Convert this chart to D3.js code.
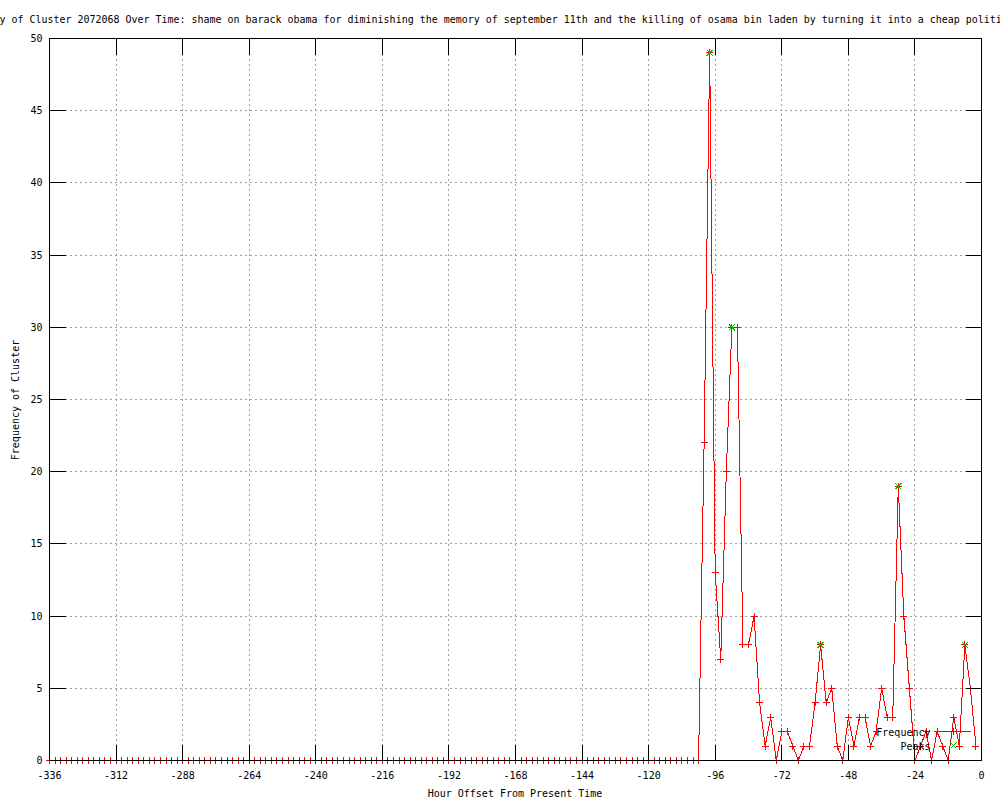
<!DOCTYPE html>
<html>
<head>
<meta charset="utf-8">
<script src="https://cdn.jsdelivr.net/npm/d3@7"></script>
<style>
body{margin:0;background:#fff}
svg text{font-family:"DejaVu Sans Mono",monospace;font-size:10px;fill:#000}
</style>
</head>
<body>
<svg id="chart" width="1000" height="800"></svg>
<script>
var titleText = "Frequency of Cluster 2072068 Over Time: shame on barack obama for diminishing the memory of september 11th and the killing of osama bin laden by turning it into a cheap political stunt"
var xLabel = "Hour Offset From Present Time"
var yLabel = "Frequency of Cluster"

// one bucket every 2 hours, -336 .. -2
var hours = d3.range(-336, 0, 2)
var freq = [
    0,0,0,0,0,0,0,0,0,0,0,0,0,0,0,0,0,0,0,0,
    0,0,0,0,0,0,0,0,0,0,0,0,0,0,0,0,0,0,0,0,
    0,0,0,0,0,0,0,0,0,0,0,0,0,0,0,0,0,0,0,0,
    0,0,0,0,0,0,0,0,0,0,0,0,0,0,0,0,0,0,0,0,
    0,0,0,0,0,0,0,0,0,0,0,0,0,0,0,0,0,0,0,0,
    0,0,0,0,0,0,0,0,0,0,0,0,0,0,0,0,0,0,
    22,49,13,7,20,30,30,8,8,10,
    4,1,3,0,2,2,1,0,1,1,
    4,8,4,5,1,0,3,1,3,3,
    1,2,5,3,3,19,10,5,0,1,
    2,0,2,1,0,3,1,8,5,1
]
var peakHours = [-98,-90,-58,-30,-6]
var peakValues = [49,30,8,19,8]

var xTicks = [-336,-312,-288,-264,-240,-216,-192,-168,-144,-120,-96,-72,-48,-24,0]
var yTicks = [0,5,10,15,20,25,30,35,40,45,50]
var legendNames = ["Frequency","Peaks"]

var plotLeft = 49, plotRight = 981, plotTop = 38, plotBottom = 760
var svg = d3.select("#chart")

var x = d3.scaleLinear().domain([-336,0]).range([plotLeft,plotRight])
var y = d3.scaleLinear().domain([0,50]).range([plotBottom,plotTop])

var plot = svg.append("g").attr("transform","translate(0.5,0.5)")

//grid
plot.append("g").selectAll("line")
    .data(xTicks).enter().append("line")
    .attr("x1",function(d){return x(d)}).attr("x2",function(d){return x(d)})
    .attr("y1",plotBottom).attr("y2",plotTop)
    .attr("stroke","#a0a0a0").attr("stroke-dasharray","2,3")
    .attr("shape-rendering","crispEdges")
plot.append("g").selectAll("line")
    .data(yTicks).enter().append("line")
    .attr("y1",function(d){return y(d)}).attr("y2",function(d){return y(d)})
    .attr("x1",plotLeft).attr("x2",plotRight)
    .attr("stroke","#a0a0a0").attr("stroke-dasharray","2,3")
    .attr("shape-rendering","crispEdges")

//axes, ticks pointing inward
var fmt = function(d){return String(d)}
var gx = svg.append("g").attr("transform","translate(0,"+(plotBottom+0.5)+")")
    .call(d3.axisBottom(x).tickValues(xTicks).tickFormat(fmt).tickSizeInner(-16).tickSizeOuter(0).tickPadding(11))
var gxTop = svg.append("g").attr("transform","translate(0,"+(plotTop+0.5)+")")
    .call(d3.axisTop(x).tickValues(xTicks).tickFormat("").tickSizeInner(-16).tickSizeOuter(0))
var gy = svg.append("g").attr("transform","translate("+(plotLeft+0.5)+",0)")
    .call(d3.axisLeft(y).tickValues(yTicks).tickFormat(fmt).tickSizeInner(-16).tickSizeOuter(0).tickPadding(7))
var gyRight = svg.append("g").attr("transform","translate("+(plotRight+0.5)+",0)")
    .call(d3.axisRight(y).tickValues(yTicks).tickFormat("").tickSizeInner(-16).tickSizeOuter(0))
;[gx,gxTop,gy,gyRight].forEach(function(g){
    g.select(".domain").remove()
    g.selectAll("line").attr("shape-rendering","crispEdges")
})
gy.selectAll("text").attr("dy","0.35em")

//frequency line
var line = d3.line()
    .x(function(d,i){return x(hours[i])})
    .y(function(d){return y(d)})
plot.append("path").datum(freq)
    .attr("d",line)
    .attr("fill","none").attr("stroke","#ff0000").attr("stroke-width",1)
    .attr("shape-rendering","crispEdges")

function plus(cx,cy){
    return "M"+(cx-3.5)+","+cy+"h7M"+cx+","+(cy-3.5)+"v7"
}
function cross(cx,cy){
    return "M"+(cx-3)+","+(cy-3)+"l6,6M"+(cx-3)+","+(cy+3)+"l6,-6"
}

plot.append("g").selectAll("path")
    .data(freq).enter().append("path")
    .attr("d",function(d,i){return plus(x(hours[i]),y(d))})
    .attr("stroke","#ff0000").attr("fill","none")
    .attr("shape-rendering","crispEdges")

plot.append("g").selectAll("path")
    .data(peakValues).enter().append("path")
    .attr("d",function(d,i){return cross(x(peakHours[i]),y(d))})
    .attr("stroke","#00c000").attr("fill","none")
    .attr("shape-rendering","crispEdges")

//border on top
plot.append("rect")
    .attr("x",plotLeft).attr("y",plotTop)
    .attr("width",plotRight-plotLeft).attr("height",plotBottom-plotTop)
    .attr("fill","none").attr("stroke","#000")
    .attr("shape-rendering","crispEdges")

//key, bottom right
var key = plot.append("g")
key.append("text").attr("x",930).attr("y",735).attr("text-anchor","end").text(legendNames[0])
key.append("line").attr("x1",937).attr("x2",970).attr("y1",731).attr("y2",731)
    .attr("stroke","#ff0000").attr("shape-rendering","crispEdges")
key.append("path").attr("d",plus(953,731)).attr("stroke","#ff0000").attr("shape-rendering","crispEdges")
key.append("text").attr("x",930).attr("y",749).attr("text-anchor","end").text(legendNames[1])
key.append("path").attr("d",cross(953,745)).attr("stroke","#00c000").attr("fill","none").attr("shape-rendering","crispEdges")

//titles
svg.append("text").attr("x",-48.5).attr("y",23).style("font-size","9.97px").text(titleText)
svg.append("text").attr("x",515).attr("y",797).attr("text-anchor","middle").text(xLabel)
svg.append("text").attr("transform","translate(18.5,400) rotate(-90)")
    .attr("text-anchor","middle").text(yLabel)
</script>
</body>
</html>
